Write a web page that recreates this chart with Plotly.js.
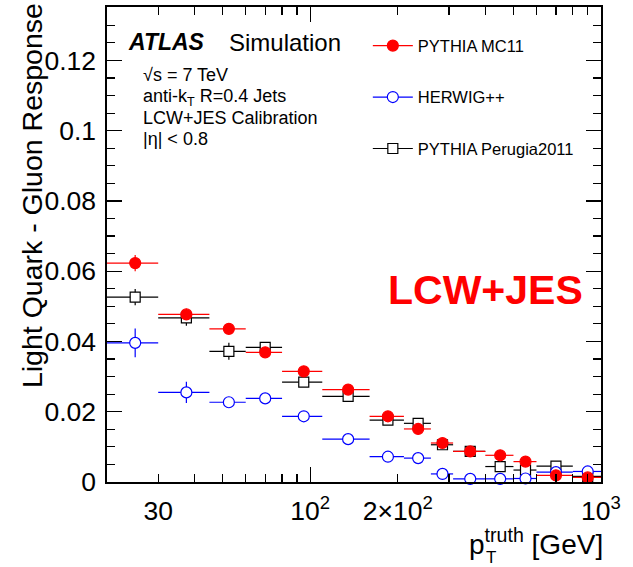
<!DOCTYPE html>
<html>
<head>
<meta charset="utf-8">
<script src="https://cdn.plot.ly/plotly-3.0.1.min.js"></script>
<style>html,body{margin:0;padding:0;background:#fff;}#chart{width:633px;height:567px;}</style>
</head>
<body>
<div id="chart"></div>
<script>
// ---- data ----
var binEdges = [20, 30, 45, 60, 80, 110, 160, 210, 260, 310, 400, 500, 600, 800, 1000];

var pythiaMC11    = [0.0623, 0.0477, 0.0436, 0.0369, 0.0315, 0.0263, 0.0187, 0.0151, 0.0111, 0.0087, 0.0076, 0.0058, 0.0019, 0.0013];
var pythiaMC11Err = [0.0023, 0.0016, 0.0010, 0.0010, 0.0010, 0.0008, 0.0008, 0.0008, 0.0007, 0.0007, 0.0007, 0.0007, 0.0010, 0.0008];

var herwig    = [0.0396, 0.0255, 0.0227, 0.0238, 0.0187, 0.0122, 0.0072, 0.0068, 0.0023, 0.0009, 0.0009, 0.0010, 0.0028, 0.0030];
var herwigErr = [0.0041, 0.0030, 0.0012, 0.0010, 0.0010, 0.0008, 0.0008, 0.0008, 0.0007, 0.0007, 0.0007, 0.0007, 0.0008, 0.0008];

var perugia    = [0.0526, 0.0467, 0.0372, 0.0383, 0.0284, 0.0244, 0.0176, 0.0167, 0.0106, 0.0087, 0.0044, 0.0034, 0.0045, 0.0016];
var perugiaErr = [0.0023, 0.0022, 0.0024, 0.0015, 0.0010, 0.0008, 0.0008, 0.0008, 0.0008, 0.0007, 0.0007, 0.0007, 0.0010, 0.0008];

var seriesNames = ["PYTHIA MC11", "HERWIG++", "PYTHIA Perugia2011"];

var xTickVals  = [30, 100, 200, 1000];
var xTickText  = ["30", "10<sup>2</sup>", "2×10<sup>2</sup>", "10<sup>3</sup>"];
var xMinorVals = [20, 40, 50, 60, 70, 80, 90, 300, 400, 500, 600, 700, 800, 900];
var xMajorVals = [100, 1000];

// ---- derived ----
var centers = [], halfW = [];
for (var i = 0; i < binEdges.length - 1; i++) {
  centers.push((binEdges[i] + binEdges[i + 1]) / 2);
  halfW.push((binEdges[i + 1] - binEdges[i]) / 2);
}

var FONT = "Liberation Sans, Arial, Helvetica, sans-serif";

function series(y, err, color, symbol, size, fill) {
  return {
    type: "scatter", mode: "markers", x: centers, y: y, showlegend: false, cliponaxis: false,
    marker: {symbol: symbol, size: size, color: fill, line: {color: color, width: 1.2}},
    error_x: {type: "data", array: halfW, color: color, thickness: 1.2, width: 0},
    error_y: {type: "data", array: err, color: color, thickness: 1.2, width: 0}
  };
}
function legendEntry(name, color, symbol, size, fill, grp) {
  return {
    type: "scatter", mode: "lines+markers", x: [null], y: [null], name: name, legendgroup: grp,
    line: {color: color, width: 1.2},
    marker: {symbol: symbol, size: size, color: fill, line: {color: color, width: 1.2}}
  };
}

var data = [
  series(perugia, perugiaErr, "#000000", "square", 10, "#ffffff"),
  series(herwig, herwigErr, "#0000ff", "circle", 11, "#ffffff"),
  series(pythiaMC11, pythiaMC11Err, "#ff0000", "circle", 11, "#ff0000"),
  legendEntry(seriesNames[0], "#ff0000", "circle", 11, "#ff0000", "a"),
  legendEntry(seriesNames[1], "#0000ff", "circle", 11, "#ffffff", "b"),
  legendEntry(seriesNames[2], "#000000", "square", 10, "#ffffff", "c"),
  {type: "scatter", x: [null], y: [null], xaxis: "x2", showlegend: false}
];

var axisCommon = {showgrid: false, zeroline: false, showline: true, linecolor: "#000", linewidth: 1.6,
  ticks: "inside", tickcolor: "#000", tickwidth: 1.2, mirror: "ticks"};

var layout = {
  width: 633, height: 567,
  margin: {l: 107, r: 32, t: 7, b: 85},
  paper_bgcolor: "#fff", plot_bgcolor: "#fff",
  font: {family: FONT, color: "#000"},
  showlegend: true,
  legend: {x: 0.528, y: 0.955, xanchor: "left", yanchor: "top", bgcolor: "rgba(0,0,0,0)",
    font: {family: FONT, size: 16.5, color: "#000"}, tracegroupgap: 27, itemwidth: 40},
  xaxis: Object.assign({}, axisCommon, {
    type: "log", range: [Math.log10(20), 3],
    tickmode: "array", tickvals: xTickVals, ticktext: xTickText, ticklen: 8,
    tickfont: {family: FONT, size: 26.5}, ticklabelstandoff: 5,
    minor: {tickmode: "array", tickvals: xMinorVals, ticklen: 8, ticks: "inside", tickcolor: "#000", tickwidth: 1.2, showgrid: false}
  }),
  xaxis2: {type: "log", range: [Math.log10(20), 3], overlaying: "x", anchor: "y", side: "bottom",
    showgrid: false, zeroline: false, showline: false, ticks: "inside", ticklen: 15, tickwidth: 1.2,
    tickcolor: "#000", tickmode: "array", tickvals: xMajorVals, showticklabels: false, mirror: "ticks"},
  yaxis: Object.assign({}, axisCommon, {
    range: [0, 0.1352], tick0: 0, dtick: 0.02, ticklen: 15,
    tickfont: {family: FONT, size: 26.5}, ticklabelstandoff: 4,
    minor: {dtick: 0.005, tick0: 0, ticklen: 8, ticks: "inside", tickcolor: "#000", tickwidth: 1.2, showgrid: false}
  }),
  annotations: [
    {xref: "paper", yref: "paper", x: -0.1518, y: 0.602, text: "Light Quark - Gluon Response", textangle: -90,
      showarrow: false, xanchor: "center", yanchor: "middle", font: {family: FONT, size: 28.5}},
    {xref: "paper", yref: "paper", x: 1.008, y: -0.126, text: "p<sup>truth</sup> [GeV]",
      showarrow: false, xanchor: "right", yanchor: "middle", font: {family: FONT, size: 28}},
    {xref: "paper", yref: "paper", x: 0.778, y: -0.158, text: "T",
      showarrow: false, xanchor: "center", yanchor: "middle", font: {family: FONT, size: 17}},
    {xref: "paper", yref: "paper", x: 0.039, y: 0.9263, text: "<b><i>ATLAS</i></b>",
      showarrow: false, xanchor: "left", yanchor: "middle", font: {family: FONT, size: 23}},
    {xref: "paper", yref: "paper", x: 0.243, y: 0.9263, text: "Simulation",
      showarrow: false, xanchor: "left", yanchor: "middle", font: {family: FONT, size: 24}},
    {xref: "paper", yref: "paper", x: 0.069, y: 0.8568, text: "√s = 7 TeV",
      showarrow: false, xanchor: "left", yanchor: "middle", font: {family: FONT, size: 18}},
    {xref: "paper", yref: "paper", x: 0.069, y: 0.8105, text: "anti-k<sub>T</sub> R=0.4 Jets",
      showarrow: false, xanchor: "left", yanchor: "middle", font: {family: FONT, size: 18}},
    {xref: "paper", yref: "paper", x: 0.069, y: 0.7663, text: "LCW+JES Calibration",
      showarrow: false, xanchor: "left", yanchor: "middle", font: {family: FONT, size: 18}},
    {xref: "paper", yref: "paper", x: 0.069, y: 0.7221, text: "|η| &lt; 0.8",
      showarrow: false, xanchor: "left", yanchor: "middle", font: {family: FONT, size: 18}},
    {xref: "paper", yref: "paper", x: 0.565, y: 0.4042, text: "<b>LCW+JES</b>",
      showarrow: false, xanchor: "left", yanchor: "middle", font: {family: FONT, size: 41, color: "#ff0000"}}
  ]
};

Plotly.newPlot("chart", data, layout, {displayModeBar: false, staticPlot: true});
</script>
</body>
</html>
